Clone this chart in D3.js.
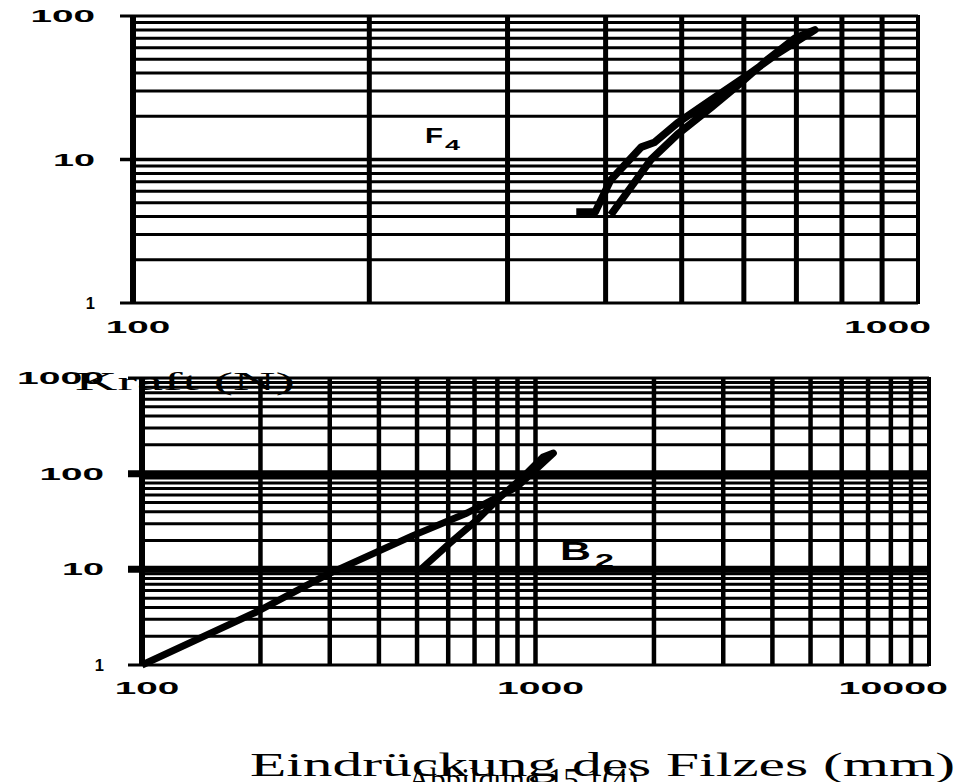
<!DOCTYPE html>
<html>
<head>
<meta charset="utf-8">
<script src="https://cdn.jsdelivr.net/npm/d3@7"></script>
<style>
  html, body { margin: 0; padding: 0; background: #fff; }
  svg { display: block; }
</style>
</head>
<body>
<svg id="chart" width="958" height="782"></svg>
<script>
// Upper plot: felt F4, indentation 100..1000, force 1..100
const f4XTicks = [100, 1000];
const f4YTicks = [1, 10, 100];
const f4LoadX = [367, 388, 406, 444, 462, 494, 545, 602, 663, 739];
const f4LoadF = [4.3, 4.3, 7.2, 12.2, 13.2, 18, 26, 37.6, 55, 80];
const f4UnloadX = [739, 697, 644, 590, 545, 494, 457, 427, 406];
const f4UnloadF = [80, 70, 50, 33, 23, 15, 10, 6, 4.1];

// Lower plot: felt B2, indentation 100..10000, force 1..1000
const b2XTicks = [100, 1000, 10000];
const b2YTicks = [1, 10, 100, 1000];
const b2LoadX = [100, 196, 295, 488, 670, 897, 1110];
const b2LoadF = [1, 3.6, 8.8, 22.5, 38.8, 72.6, 164];
const b2UnloadX = [1110, 1045, 913, 813, 710, 606, 514];
const b2UnloadF = [164, 149, 86, 57, 32.8, 18.8, 10.2];

const yAxisTitle = "Kraft (N)";
const xAxisTitle = "Eindrückung des Filzes (mm)";
const caption = "Abbildung 15.1(4)";

const svg = d3.select("#chart");
const sansBold = "'Liberation Sans', Arial, Helvetica, sans-serif";
const serif = "'Liberation Serif', 'Times New Roman', Times, serif";

// Text that is stretched horizontally to a given width
function stretched(g, str, x, y, opts) {
  const t = g.append("text")
    .attr("x", x).attr("y", y)
    .attr("font-family", opts.family || sansBold)
    .attr("font-weight", opts.weight || "bold")
    .attr("font-size", opts.size)
    .attr("text-anchor", opts.anchor || "start")
    .attr("fill", "#000")
    .text(str);
  if (opts.len) t.attr("textLength", opts.len).attr("lengthAdjust", "spacingAndGlyphs");
  return t;
}
const labelLen = s => s.length > 1 ? 22.5 * s.length - 3 : null;

function drawPanel(cfg) {
  const x = d3.scaleLog().domain(cfg.xDomain).range([cfg.x0, cfg.x1]);
  const y = d3.scaleLog().domain(cfg.yDomain).range([cfg.y0, cfg.y1]);
  const g = svg.append("g");
  const isMajor = v => Math.abs(Math.log10(v) - Math.round(Math.log10(v))) < 1e-9;

  // horizontal grid
  g.selectAll("line.h").data(y.ticks()).join("line")
    .attr("x1", d => isMajor(d) ? cfg.x0 - cfg.tickExt : cfg.x0)
    .attr("x2", cfg.x1)
    .attr("y1", d => y(d)).attr("y2", d => y(d))
    .attr("stroke", "#000")
    .attr("stroke-width", d => (isMajor(d) && d > cfg.yDomain[0] && d < cfg.yDomain[1]) ? cfg.hMajorW : cfg.hW);

  // vertical grid
  g.selectAll("line.v").data(x.ticks()).join("line")
    .attr("x1", d => x(d)).attr("x2", d => x(d))
    .attr("y1", cfg.y1 - 1).attr("y2", cfg.y0 + 1)
    .attr("stroke", "#000")
    .attr("stroke-width", d => d === cfg.xDomain[0] ? cfg.axisW : (d === cfg.xDomain[1] ? cfg.hW + 1 : cfg.vW));

  // y tick labels
  cfg.yTicks.forEach(v => {
    const s = String(v);
    stretched(g, s, cfg.x0 - 38, y(v) + 6, { size: 16.5, anchor: "end", len: labelLen(s) });
  });
  // x tick labels
  cfg.xTicks.forEach((v, i) => {
    const s = String(v);
    const last = i === cfg.xTicks.length - 1;
    stretched(g, s, last ? x(v) + cfg.lastShift : x(v) + 5, cfg.xLabelY,
      { size: 16.5, anchor: last ? "end" : "middle", len: labelLen(s) });
  });

  // loading / unloading loop
  const line = d3.line().x(d => x(d[0])).y(d => y(d[1])).curve(d3.curveLinear);
  const pts = d3.zip(cfg.loadX, cfg.loadF).concat(d3.zip(cfg.unloadX, cfg.unloadF).slice(1));
  g.append("path").attr("d", line(pts))
    .attr("fill", "none").attr("stroke", "#000")
    .attr("stroke-width", cfg.curveW).attr("stroke-linejoin", "round");
  return { x, y, g };
}

// upper panel
const up = drawPanel({
  xDomain: [100, 1000], yDomain: [1, 100],
  x0: 133, x1: 918, y0: 303, y1: 16,
  xTicks: f4XTicks, yTicks: f4YTicks,
  hW: 3, hMajorW: 3.5, vW: 5, axisW: 6, tickExt: 13,
  xLabelY: 333, lastShift: 13,
  loadX: f4LoadX, loadF: f4LoadF, unloadX: f4UnloadX, unloadF: f4UnloadF,
  curveW: 7.5
});
stretched(up.g, "F", 425, 143, { size: 22, len: 18 });
stretched(up.g, "4", 445, 150, { size: 15, len: 15 });

// lower panel
const lo = drawPanel({
  xDomain: [100, 10000], yDomain: [1, 1000],
  x0: 142, x1: 929, y0: 665, y1: 378,
  xTicks: b2XTicks, yTicks: b2YTicks,
  hW: 3, hMajorW: 7, vW: 4.5, axisW: 6, tickExt: 14,
  xLabelY: 694, lastShift: 19,
  loadX: b2LoadX, loadF: b2LoadF, unloadX: b2UnloadX, unloadF: b2UnloadF,
  curveW: 7
});
stretched(lo.g, "B", 560, 560, { size: 25, len: 31 });
stretched(lo.g, "2", 595, 567, { size: 18, len: 19 });

// axis titles and caption
stretched(svg, yAxisTitle, 75, 390, { family: serif, weight: "normal", size: 26, len: 220 });
stretched(svg, xAxisTitle, 250, 776, { family: serif, weight: "normal", size: 33, len: 705 });
stretched(svg, caption, 408, 790, { family: serif, weight: "normal", size: 32, len: 230 });
</script>
</body>
</html>
